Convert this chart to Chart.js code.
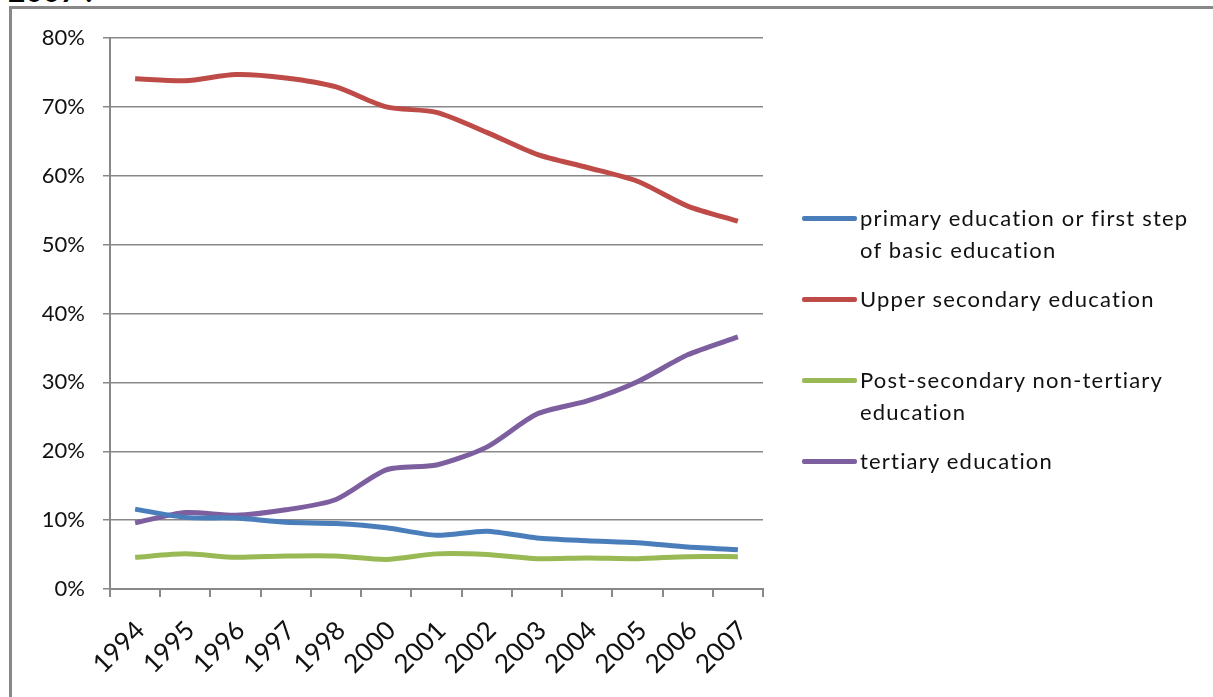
<!DOCTYPE html>
<html>
<head>
<meta charset="utf-8">
<script src="https://cdn.jsdelivr.net/npm/chart.js@4"></script>
<style>
  html, body { margin: 0; padding: 0; background: #fff; overflow: hidden; }
  body { width: 1213px; height: 697px; position: relative; font-family: Lato, sans-serif; }
  #frame { position: absolute; left: 9px; top: 6px; width: 1300px; height: 800px;
           border-left: 3px solid #888; border-top: 3px solid #888; }
  #caption { position: absolute; left: 8px; top: -28px; font: bold 30px Lato, sans-serif; color: #000; }
  #chartBox { position: absolute; left: 0; top: 0; width: 1213px; height: 697px; }
  .legend-item { position: absolute; left: 802px; }
  .legend-item .swatch { position: absolute; left: 0; top: 14px; width: 55px; height: 5px; border-radius: 2px; }
  .legend-item .text { position: absolute; left: 58px; top: 0; width: 380px; font-size: 22px; line-height: 32px;
                       letter-spacing: 1.2px; color: #111; white-space: nowrap; }
</style>
</head>
<body>
<div id="caption">2007 :</div>
<div id="frame"></div>
<div id="chartBox"><canvas id="eduChart" width="1213" height="697"></canvas></div>
<div id="legend"></div>
<script>
const years = ['1994', '1995', '1996', '1997', '1998', '2000', '2001', '2002', '2003', '2004', '2005', '2006', '2007'];

const primary = [11.6, 10.4, 10.3, 9.7, 9.5, 8.9, 7.8, 8.4, 7.4, 7.0, 6.7, 6.1, 5.7];
const upperSecondary = [74.1, 73.8, 74.7, 74.2, 72.9, 70.0, 69.2, 66.3, 63.1, 61.2, 59.2, 55.6, 53.4];
const postSecondary = [4.6, 5.1, 4.6, 4.8, 4.8, 4.3, 5.1, 5.0, 4.4, 4.5, 4.4, 4.7, 4.7];
const tertiary = [9.6, 11.1, 10.7, 11.5, 13.0, 17.3, 18.0, 20.6, 25.4, 27.3, 30.1, 34.0, 36.6];

const yTicks = [0, 10, 20, 30, 40, 50, 60, 70, 80];

const seriesNames = [
  ['primary education or first step', 'of basic education'],
  ['Upper secondary education'],
  ['Post-secondary non-tertiary', 'education'],
  ['tertiary education']
];
const seriesColors = ['#4A7EBB', '#BE4B48', '#98B954', '#7D5FA0'];
const seriesData = [primary, upperSecondary, postSecondary, tertiary];

// legend rows sit at fixed heights on the right
const legendTops = [202, 283, 364, 445];
const legend = document.getElementById('legend');
seriesNames.forEach((lines, i) => {
  const item = document.createElement('div');
  item.className = 'legend-item';
  item.style.top = legendTops[i] + 'px';
  item.innerHTML = '<div class="swatch" style="background:' + seriesColors[i] + '"></div>' +
    '<div class="text">' + lines.join('<br>') + '</div>';
  legend.appendChild(item);
});

const ctx = document.getElementById('eduChart').getContext('2d');

new Chart(ctx, {
  type: 'line',
  data: {
    labels: years,
    datasets: seriesData.map((values, i) => ({
      label: seriesNames[i].join(' '),
      data: values,
      borderColor: seriesColors[i],
      backgroundColor: seriesColors[i],
      borderWidth: 5,
      pointRadius: 0,
      tension: 0.25,
      fill: false
    }))
  },
  options: {
    responsive: false,
    animation: false,
    layout: { padding: { left: 0, top: 38, right: 450, bottom: 0 } },
    plugins: {
      legend: { display: false },
      tooltip: { enabled: false }
    },
    scales: {
      x: {
        offset: true,
        grid: { offset: true, drawOnChartArea: false, drawTicks: true, tickLength: 8, color: '#888', lineWidth: 2 },
        border: { color: '#888', width: 2 },
        ticks: {
          color: '#111',
          font: { family: 'Lato', size: 26 },
          maxRotation: 45,
          minRotation: 45,
          padding: 18,
          labelOffset: 5
        },
        afterFit: (scale) => { scale.height = 108; }
      },
      y: {
        min: 0,
        max: 80,
        afterBuildTicks: (scale) => { scale.ticks = yTicks.map(v => ({ value: v })); },
        grid: { color: '#888', lineWidth: 1.5, tickLength: 7 },
        border: { color: '#888', width: 2 },
        ticks: {
          color: '#111',
          font: { family: 'Lato', size: 22 },
          padding: 18,
          callback: (v) => v + '%'
        },
        afterFit: (scale) => { scale.width = 110; }
      }
    }
  }
});
</script>
</body>
</html>
